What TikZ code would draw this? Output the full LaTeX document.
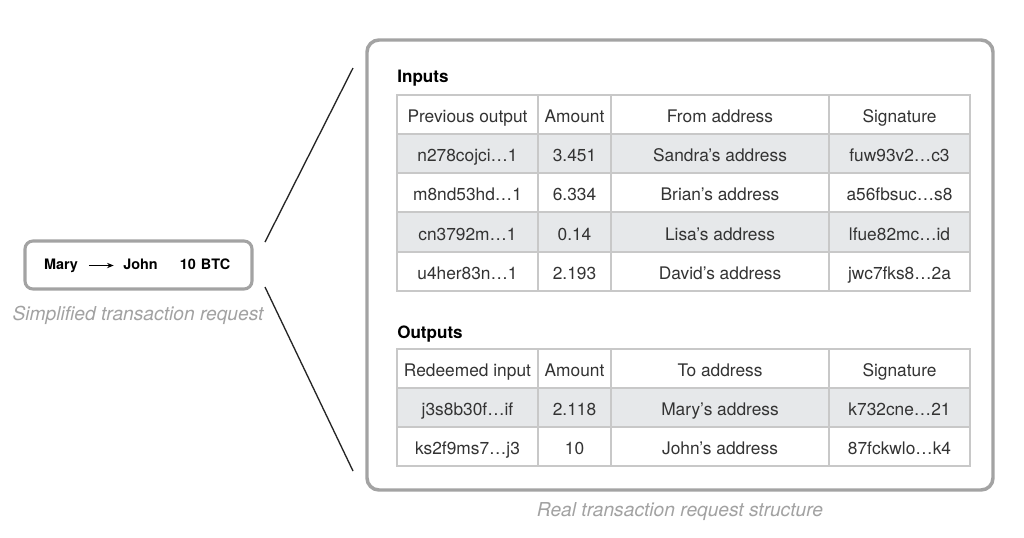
\documentclass[tikz,border=0pt]{standalone}
\usepackage{fontspec}
\setmainfont{TeX Gyre Heros}
\usetikzlibrary{arrows.meta}

\definecolor{framegray}{HTML}{A3A3A3}
\definecolor{gridgray}{HTML}{C8C8C8}
\definecolor{rowgray}{HTML}{E6E8EA}
\definecolor{textgray}{HTML}{333333}
\definecolor{capgray}{HTML}{A2A2A2}
\newcommand{\pxu}{0.75pt}

\tikzset{
	cell/.style={draw=gridgray, line width=0.8pt, text=textgray, minimum height=39*\pxu, inner sep=0pt, text height=12pt, text depth=0pt, font=\fontsize{13}{15}\selectfont},
	title/.style={anchor=west, inner sep=0pt, text height=9.2pt, text depth=0pt, font=\fontsize{12.8}{15}\selectfont\bfseries},
	caption/.style={text=capgray, inner sep=0pt, font=\fontsize{14.4}{17}\selectfont\itshape},
	simpletext/.style={inner sep=0pt, text height=1.5ex, text depth=.3ex, font=\fontsize{10.8}{12}\selectfont\bfseries},
}

\begin{document}
\begin{tikzpicture}[x=0.75pt,y=-0.75pt]
	\useasboundingbox[fill=white] (0,0) rectangle (1024,537);

	% simplified request
	\node[draw=framegray, line width=2.3pt, rounded corners=6pt, minimum width=227*\pxu, minimum height=48*\pxu, fill=white] (simple) at (138.5,265) {};
	\node[simpletext] (mary) at (61,265.5) {Mary};
	\node[simpletext] (john) at (140.5,265.5) {John};
	\node[simpletext] (btc) at (205,265.5) {10\hspace{0.35em}BTC};
	\draw[line width=1pt, -{Stealth[length=5pt,width=4pt]}, shorten <=8pt, shorten >=7pt] (mary.east) -- (john.west);
	\node[caption] (simplecap) at (138,315) {Simplified transaction request};

	% real request frame
	\node[draw=framegray, line width=2.6pt, rounded corners=9pt, minimum width=626*\pxu, minimum height=450*\pxu, fill=white] (real) at (680,265) {};
	\node[caption] (realcap) at (680,512) {Real transaction request structure};

	% zoom lines
	\coordinate (ltop) at (265,242);
	\coordinate (lbot) at (265,287);
	\coordinate (rtop) at (353,68);
	\coordinate (rbot) at (353,471);
	\draw[line width=1pt, color=black!85] (ltop) -- (rtop);
	\draw[line width=1pt, color=black!85] (lbot) -- (rbot);

	% inputs
	\node[title] (inputs) at (397,76.5) {Inputs};
	\foreach \r/\y/\f/\a/\b/\c/\d in {
		0/114.5/white/Previous output/Amount/From address/Signature,
		1/153.5/rowgray/n278cojci…1/3.451/Sandra's address/fuw93v2…c3,
		2/192.5/white/m8nd53hd…1/6.334/Brian's address/a56fbsuc…s8,
		3/232/rowgray/cn3792m…1/0.14/Lisa's address/lfue82mc…id,
		4/271.5/white/u4her83n…1/2.193/David's address/jwc7fks8…2a}
	{
		\node[cell, fill=\f, minimum width=141*\pxu] (in\r a) at (467.5,\y) {\a};
		\node[cell, fill=\f, minimum width=73*\pxu] (in\r b) at (574.5,\y) {\b};
		\node[cell, fill=\f, minimum width=218*\pxu] (in\r c) at (720,\y) {\c};
		\node[cell, fill=\f, minimum width=141*\pxu] (in\r d) at (899.5,\y) {\d};
	}

	% outputs
	\node[title] (outputs) at (397,332.5) {Outputs};
	\foreach \r/\y/\f/\a/\b/\c/\d in {
		0/368.5/white/Redeemed input/Amount/To address/Signature,
		1/407.5/rowgray/j3s8b30f…if/2.118/Mary's address/k732cne…21,
		2/446.5/white/ks2f9ms7…j3/10/John's address/87fckwlo…k4}
	{
		\node[cell, fill=\f, minimum width=141*\pxu] (out\r a) at (467.5,\y) {\a};
		\node[cell, fill=\f, minimum width=73*\pxu] (out\r b) at (574.5,\y) {\b};
		\node[cell, fill=\f, minimum width=218*\pxu] (out\r c) at (720,\y) {\c};
		\node[cell, fill=\f, minimum width=141*\pxu] (out\r d) at (899.5,\y) {\d};
	}
\end{tikzpicture}
\end{document}
